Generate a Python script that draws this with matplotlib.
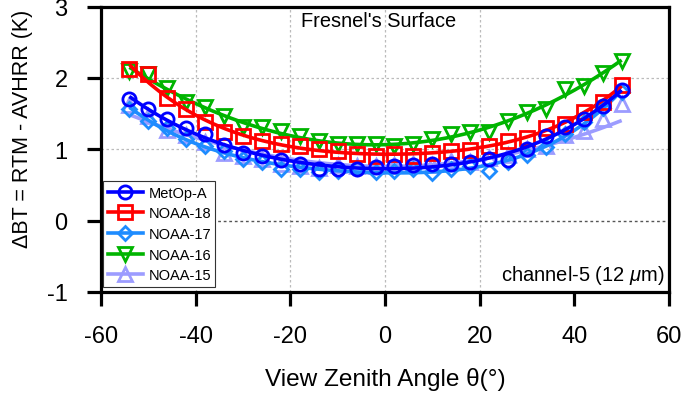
import numpy as np
import matplotlib
matplotlib.use("Agg")
import matplotlib.pyplot as plt

plt.rcParams['font.family'] = ['Liberation Sans', 'DejaVu Sans']
plt.rcParams['mathtext.fontset'] = 'custom'
plt.rcParams['mathtext.it'] = 'Liberation Sans:italic'
plt.rcParams['mathtext.rm'] = 'Liberation Sans'
plt.rcParams['axes.unicode_minus'] = False

angles = [-54, -50, -46, -42, -38, -34, -30, -26, -22, -18, -14, -10, -6, -2,
          2, 6, 10, 14, 18, 22, 26, 30, 34, 38, 42, 46, 50]

metop_a = [1.70, 1.57, 1.42, 1.30, 1.22, 1.06, 0.95, 0.90, 0.85, 0.80, 0.73, 0.73, 0.73, 0.75,
           0.77, 0.78, 0.80, 0.80, 0.82, 0.86, 0.85, 1.00, 1.18, 1.31, 1.42, 1.61, 1.83]
noaa18 = [2.12, 2.05, 1.72, 1.56, 1.38, 1.24, 1.19, 1.12, 1.08, 1.05, 1.00, 0.97, 0.94, 0.91,
          0.93, 0.91, 0.95, 0.98, 0.99, 1.05, 1.12, 1.16, 1.30, 1.35, 1.52, 1.66, 1.90]
noaa17 = [1.56, 1.40, 1.30, 1.14, 1.05, 0.98, 0.86, 0.82, 0.72, 0.73, 0.68, 0.70, 0.74, 0.68,
          0.69, 0.72, 0.67, 0.72, 0.76, 0.70, 0.82, 0.92, 1.03, 1.22, 1.38, 1.58, 1.80]
noaa16 = [2.10, 2.06, 1.86, 1.66, 1.59, 1.47, 1.31, 1.31, 1.25, 1.18, 1.11, 1.08, 1.08, 1.07,
          1.04, 1.08, 1.15, 1.21, 1.24, 1.24, 1.40, 1.52, 1.56, 1.84, 1.89, 2.07, 2.24]
noaa15 = [1.62, 1.46, 1.27, 1.20, 1.10, 0.95, 0.90, 0.86, 0.80, 0.77, 0.74, 0.78, 0.76, 0.77,
          0.78, 0.80, 0.78, 0.83, 0.82, 0.88, 0.92, 1.00, 1.05, 1.20, 1.25, 1.42, 1.64]
# NOAA-15 model curve
noaa15_fit_angles = [-54, -46, -38, -30, -22, -14, -6, 2, 10, 18, 26, 34, 42, 50]
noaa15_fit = [1.47, 1.30, 1.14, 1.00, 0.88, 0.80, 0.76, 0.76, 0.78, 0.84, 0.93, 1.06, 1.22, 1.39]

x_ticks = [-60, -40, -20, 0, 20, 40, 60]
y_ticks = [-1, 0, 1, 2, 3]

fig = plt.figure(figsize=(6.86, 4.02), dpi=100)
ax = fig.add_axes([101/686, 1 - 293/402, 568/686, 285.5/402])

series = [
    ("NOAA-15", noaa15, '#9C9CFF', '^', 10),
    ("NOAA-16", noaa16, '#00B400', 'v', 10),
    ("NOAA-17", noaa17, '#1E8CFF', 'D', 7),
    ("NOAA-18", noaa18, '#FF0000', 's', 9.5),
    ("MetOp-A", metop_a, '#0000FF', 'o', 9.5),
]

xfine = np.linspace(angles[0], angles[-1], 200)
handles = {}
for i, (name, vals, col, mk, ms) in enumerate(series):
    if name == "NOAA-15":
        fx = np.linspace(noaa15_fit_angles[0], noaa15_fit_angles[-1], 200)
        coef = np.polyfit(noaa15_fit_angles, noaa15_fit, 3)
        fy = np.polyval(coef, fx)
    else:
        fx = xfine
        coef = np.polyfit(angles, vals, 4)
        fy = np.polyval(coef, fx)
    ax.plot(fx, fy, color=col, lw=2.6, zorder=3 + 2 * i, solid_capstyle='butt')
    ax.plot(angles, vals, ls='none', marker=mk, ms=ms, mfc='none', mec=col,
            mew=2.0, zorder=4 + 2 * i)
    handles[name] = ax.plot([], [], color=col, lw=2.6, marker=mk, ms=ms,
                            mfc='none', mec=col, mew=2.0)[0]

ax.set_xlim(-60, 60)
ax.set_ylim(-1, 3)
ax.set_xticks(x_ticks)
ax.set_yticks(y_ticks)

# grid lines
for gx in [-40, -20, 0, 20]:
    ax.axvline(gx, color='#BBBBBB', lw=0.9, ls=(0, (2, 2)), zorder=1)
for gy in [1, 2]:
    ax.axhline(gy, color='#BBBBBB', lw=0.9, ls=(0, (2, 2)), zorder=1)
ax.axhline(0, color='#555555', lw=1.0, ls=(0, (2, 2)), zorder=1)

for s in ax.spines.values():
    s.set_linewidth(2.3)
ax.tick_params(direction='out', length=10, width=2.3, labelsize=17, pad=14,
               top=False, right=False)
ax.tick_params(axis='y', pad=14)

ax.set_xlabel('View Zenith Angle θ(°)', fontsize=17.6, labelpad=14)
ax.set_ylabel('ΔBT = RTM - AVHRR (K)', fontsize=15.5)
ax.yaxis.set_label_coords(-0.12, 0.574)

ax.text(0.488, 0.95, "Fresnel's Surface", transform=ax.transAxes,
        ha='center', va='center', fontsize=14.4)
ax.text(0.993, 0.063, 'channel-5 (12 $\\mu$m)', transform=ax.transAxes,
        ha='right', va='center', fontsize=14.5)

order = ["MetOp-A", "NOAA-18", "NOAA-17", "NOAA-16", "NOAA-15"]
leg = ax.legend([handles[n] for n in order], order, loc='lower left',
                bbox_to_anchor=(0.004, 0.018), borderaxespad=0, fontsize=10.5,
                handlelength=2.4, handletextpad=0.4, labelspacing=0.46,
                borderpad=0.3, fancybox=False, framealpha=1, edgecolor='#333333')
leg.get_frame().set_linewidth(0.8)
leg.set_zorder(20)

fig.savefig('out.png', dpi=100)
